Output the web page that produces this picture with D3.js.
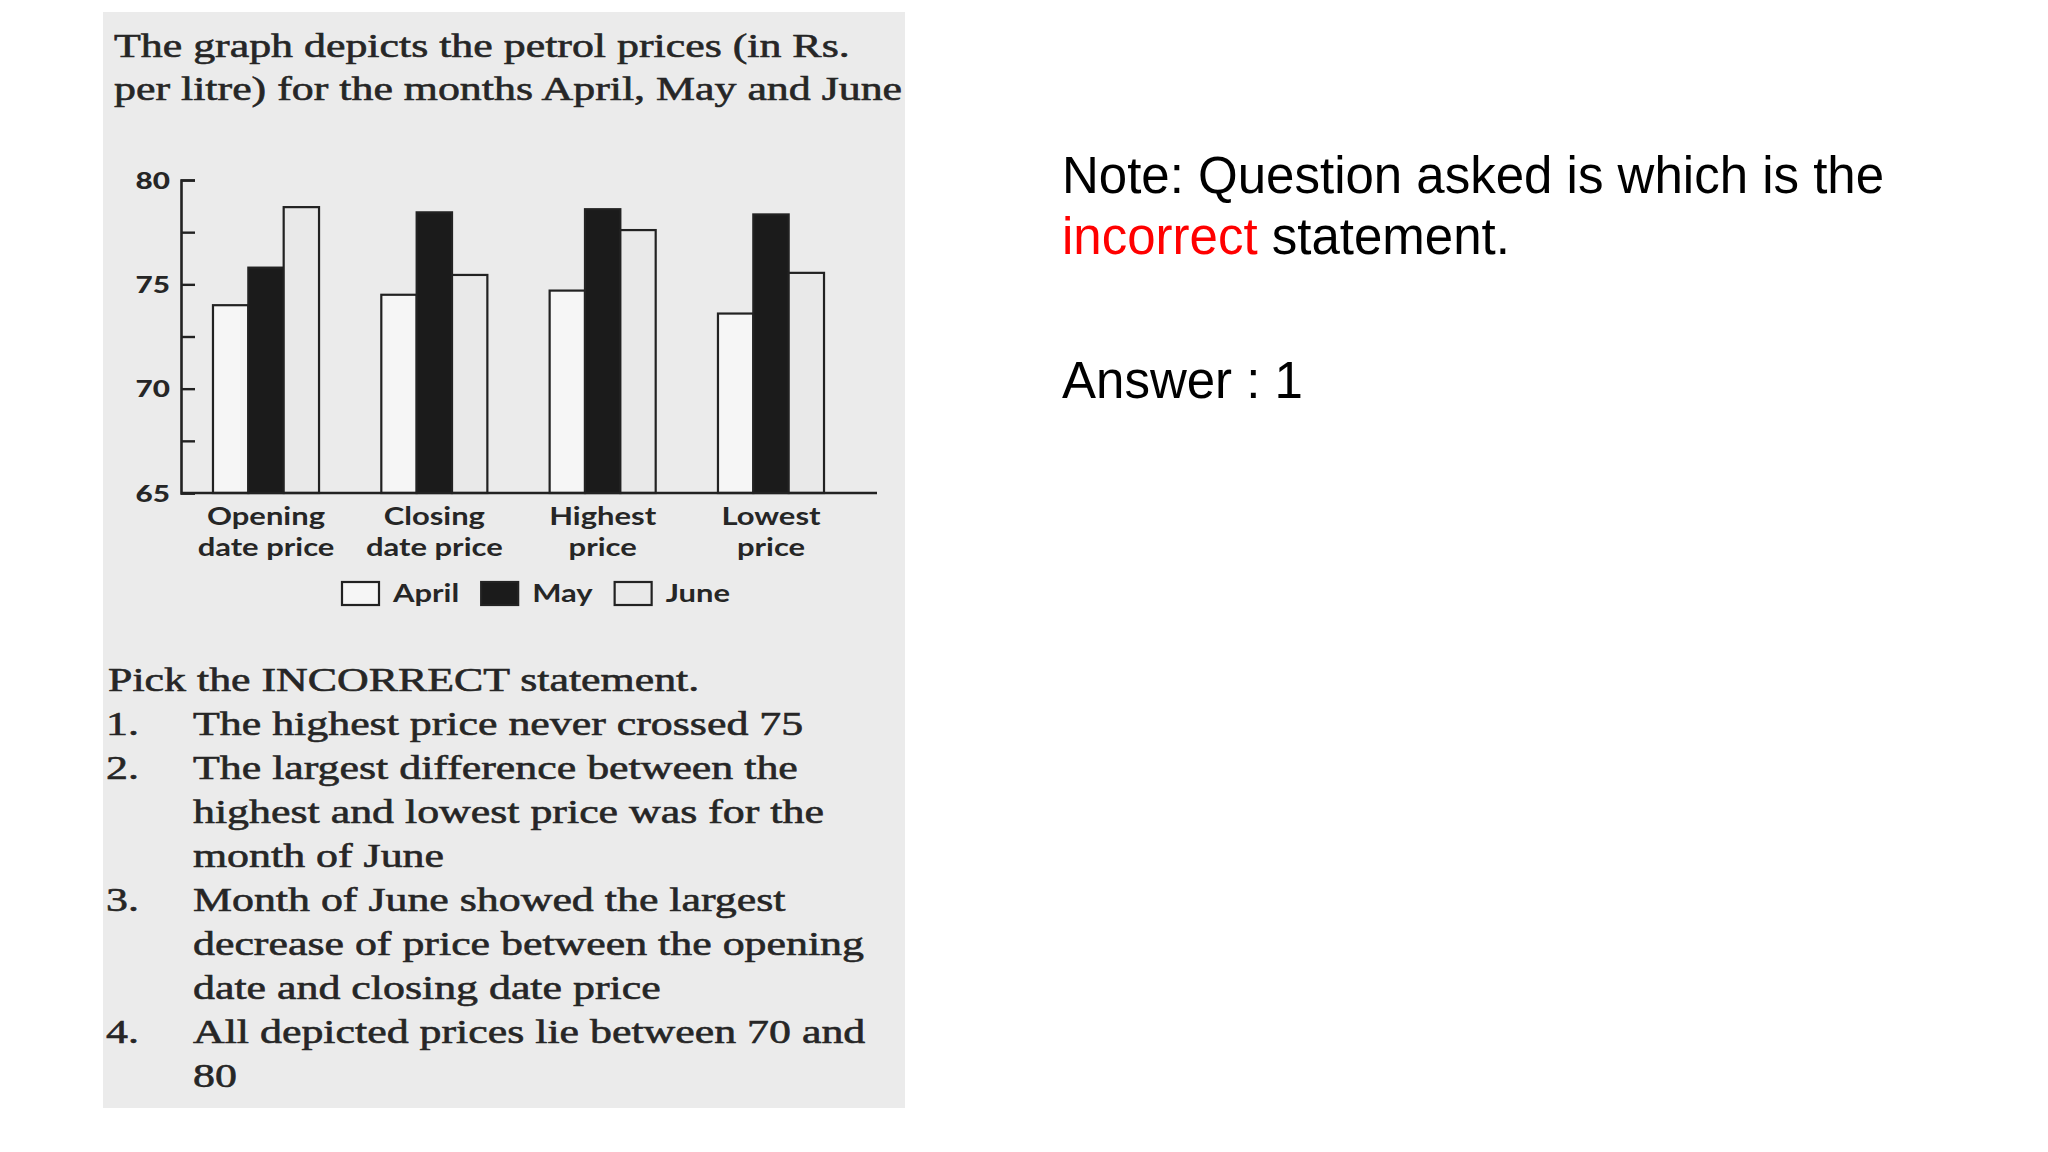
<!DOCTYPE html>
<html>
<head>
<meta charset="utf-8">
<script src="https://cdn.jsdelivr.net/npm/d3@7"></script>
<style>
  body { margin: 0; background: #fff; }
  svg { display: block; }
</style>
</head>
<body>
<svg id="chart"></svg>
<script>
// data (Rs. per litre)
const categories = ["Opening date price", "Closing date price", "Highest price", "Lowest price"];
const categoryLabels = [["Opening", "date price"], ["Closing", "date price"], ["Highest", "price"], ["Lowest", "price"]];
const months = ["April", "May", "June"];
const april = [74.0, 74.5, 74.7, 73.6];
const may = [75.8, 78.45, 78.6, 78.35];
const june = [78.7, 75.45, 77.6, 75.55];
const yTicks = [65, 67.5, 70, 72.5, 75, 77.5, 80];

const titleLines = [
  "The graph depicts the petrol prices (in Rs.",
  "per litre) for the months April, May and June"
];
const questionHead = "Pick the INCORRECT statement.";
const options = [
  ["1.", ["The highest price never crossed 75"]],
  ["2.", ["The largest difference between the", "highest and lowest price was for the", "month of June"]],
  ["3.", ["Month of June showed the largest", "decrease of price between the opening", "date and closing date price"]],
  ["4.", ["All depicted prices lie between 70 and", "80"]]
];

const W = 2048, H = 1152;
const STRETCH = 1.29;      // the scan is stretched sideways
const ink = "#262626";
const serif = "'Liberation Serif', 'DejaVu Serif', serif";
const sans = "Lato, 'Open Sans', sans-serif";

const svg = d3.select("#chart").attr("width", W).attr("height", H);
svg.append("rect").attr("width", W).attr("height", H).attr("fill", "#fff");

// stretch text horizontally to look like the scan
function stretch(sel) {
  sel.each(function() {
    const w = this.getComputedTextLength();
    d3.select(this).attr("textLength", w * STRETCH).attr("lengthAdjust", "spacingAndGlyphs");
  });
}

// scanned panel
const panel = svg.append("g");
panel.append("rect")
  .attr("x", 103).attr("y", 12)
  .attr("width", 802).attr("height", 1096)
  .attr("fill", "#ebebeb");

function serifText(sel) {
  sel.attr("font-family", serif)
    .attr("font-size", 34)
    .attr("fill", ink)
    .attr("stroke", ink)
    .attr("stroke-width", 0.6);
}

// title
panel.selectAll(".title")
  .data(titleLines)
  .join("text")
  .attr("class", "title")
  .attr("x", 114)
  .attr("y", (d, i) => 57 + i * 43)
  .call(serifText)
  .text(d => d)
  .call(stretch);

// chart
const y = d3.scaleLinear().domain([65, 80]).range([493, 180]);
const x0 = d3.scaleBand().domain(categories).range([181, 856]).paddingInner(0.37).paddingOuter(0.19);
const x1 = d3.scaleBand().domain(months).range([0, x0.bandwidth()]);
const fills = { April: "#f6f6f6", May: "#1b1b1b", June: "#e9e9e9" };

const series = categories.map((c, i) => ({
  cat: c,
  vals: [
    { m: "April", v: april[i] },
    { m: "May", v: may[i] },
    { m: "June", v: june[i] }
  ]
}));

const groups = panel.selectAll(".grp")
  .data(series)
  .join("g")
  .attr("class", "grp")
  .attr("transform", d => `translate(${x0(d.cat)},0)`);

groups.selectAll("rect")
  .data(d => d.vals)
  .join("rect")
  .attr("x", d => x1(d.m))
  .attr("y", d => y(d.v))
  .attr("width", x1.bandwidth())
  .attr("height", d => y(65) - y(d.v))
  .attr("fill", d => fills[d.m])
  .attr("stroke", "#222")
  .attr("stroke-width", 2.2);

// y axis, ticks point inward
const yAxis = d3.axisLeft(y)
  .tickValues(yTicks)
  .tickSize(-14)
  .tickPadding(11)
  .tickFormat(d => d % 5 === 0 ? d : "");

const yAxisG = panel.append("g")
  .attr("transform", "translate(181,0)")
  .call(yAxis);
yAxisG.select(".domain").attr("stroke", "#222").attr("stroke-width", 2.6);
yAxisG.selectAll(".tick line").attr("stroke", "#222").attr("stroke-width", 2.4);
yAxisG.selectAll(".tick text")
  .attr("font-family", sans)
  .attr("font-weight", 900)
  .attr("font-size", 23)
  .attr("fill", ink)
  .attr("dy", "0.35em")
  .call(stretch);

// x axis
const xAxisG = panel.append("g")
  .attr("transform", `translate(0,${y(65)})`)
  .call(d3.axisBottom(x0).tickSize(0).tickFormat(""));
xAxisG.select(".domain").remove();
xAxisG.append("line")
  .attr("x1", x0.range()[0]).attr("x2", 877)
  .attr("stroke", "#222").attr("stroke-width", 2.6);

xAxisG.selectAll(".tick text").each(function(d, i) {
  const t = d3.select(this)
    .attr("y", 0).attr("dy", null)
    .attr("font-family", sans)
    .attr("font-weight", 700)
    .attr("font-size", 24)
    .attr("fill", ink);
  t.selectAll("tspan")
    .data(categoryLabels[i])
    .join("tspan")
    .attr("x", 0)
    .attr("y", (s, j) => 32 + j * 31)
    .text(s => s)
    .call(stretch);
});

// legend
const legend = panel.append("g").attr("transform", "translate(342,582)");
let lx = 0;
months.forEach(m => {
  legend.append("rect")
    .attr("x", lx).attr("y", 0)
    .attr("width", 37).attr("height", 23)
    .attr("fill", fills[m])
    .attr("stroke", "#222").attr("stroke-width", 2.2);
  const t = legend.append("text")
    .attr("x", lx + 51).attr("y", 20)
    .attr("font-family", sans)
    .attr("font-weight", 700)
    .attr("font-size", 24)
    .attr("fill", ink)
    .text(m)
    .call(stretch);
  lx += 51 + (+t.attr("textLength")) + 22;
});

// question text
panel.append("text")
  .attr("x", 108).attr("y", 691)
  .call(serifText)
  .text(questionHead)
  .call(stretch);

let line = 0;
options.forEach(([num, rows]) => {
  panel.append("text")
    .attr("x", 106).attr("y", 735 + line * 44)
    .call(serifText)
    .text(num)
    .call(stretch);
  rows.forEach(r => {
    panel.append("text")
      .attr("x", 193).attr("y", 735 + line * 44)
      .call(serifText)
      .text(r)
      .call(stretch);
    line++;
  });
});

// note on the right
const note = svg.append("g")
  .attr("font-family", "'Liberation Sans', Arial, sans-serif")
  .attr("font-size", 51)
  .attr("fill", "#000");
note.append("text").attr("x", 1062).attr("y", 193)
  .text("Note: Question asked is which is the");
const l2 = note.append("text").attr("x", 1062).attr("y", 254);
l2.append("tspan").attr("fill", "#ff0000").text("incorrect");
l2.append("tspan").text(" statement.");
note.append("text").attr("x", 1062).attr("y", 398)
  .text("Answer : 1");
</script>
</body>
</html>
